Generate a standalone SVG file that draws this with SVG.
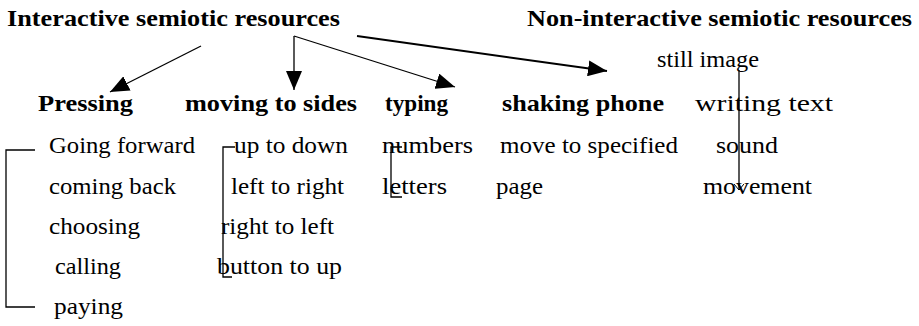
<svg xmlns="http://www.w3.org/2000/svg" width="919" height="326" viewBox="0 0 919 326">
  <style>
    text { font-family: "Liberation Serif", "DejaVu Serif", serif; font-size: 23px; fill: #000; }
    .head { font-weight: bold; }
    .ln { stroke: #000; stroke-width: 1.3; fill: none; }
    .thick { stroke-width: 2; }
  </style>
  <defs>
    <marker id="arrow" markerUnits="userSpaceOnUse" markerWidth="20" markerHeight="16" refX="19" refY="8" orient="auto">
      <path d="M0,0 L19,8 L0,16 Z" fill="#000"/>
    </marker>
    <marker id="tiny" markerUnits="userSpaceOnUse" markerWidth="8" markerHeight="10" refX="6" refY="5" orient="auto">
      <path d="M0,0 L6,5 L0,10" fill="none" stroke="#000" stroke-width="1"/>
    </marker>
  </defs>

  <!-- connectors -->
  <g id="connectors">
    <line class="ln" x1="201" y1="46" x2="110" y2="92" marker-end="url(#arrow)"/>
    <line class="ln" x1="294" y1="36" x2="294" y2="90" marker-end="url(#arrow)"/>
    <line class="ln" x1="294" y1="36" x2="455" y2="87" marker-end="url(#arrow)"/>
    <line class="ln thick" x1="357" y1="36" x2="607" y2="71" marker-end="url(#arrow)"/>
    <polyline class="ln" points="35,150 6,150 6,307 35,307"/>
    <polyline class="ln" points="235,147 223,147 223,277 232,277"/>
    <polyline class="ln" points="402,147 391,147 391,197 402,197"/>
    <line class="ln" x1="739" y1="70" x2="739" y2="190" marker-end="url(#tiny)"/>
  </g>

  <!-- headings -->
  <g id="interactive"><text class="head" x="7" y="26" textLength="333" lengthAdjust="spacingAndGlyphs">Interactive semiotic resources</text></g>
  <g id="non-interactive"><text class="head" x="527" y="26" textLength="385" lengthAdjust="spacingAndGlyphs">Non-interactive semiotic resources</text></g>

  <!-- interactive categories -->
  <g id="pressing"><text class="head" x="38" y="111" textLength="95" lengthAdjust="spacingAndGlyphs">Pressing</text></g>
  <g id="moving"><text class="head" x="185" y="111" textLength="172" lengthAdjust="spacingAndGlyphs">moving to sides</text></g>
  <g id="typing"><text class="head" x="385" y="111" textLength="63" lengthAdjust="spacingAndGlyphs">typing</text></g>
  <g id="shaking"><text class="head" x="502" y="111" textLength="162" lengthAdjust="spacingAndGlyphs">shaking phone</text></g>

  <!-- non-interactive items -->
  <g id="still-image"><text x="657" y="67" textLength="102" lengthAdjust="spacingAndGlyphs">still image</text></g>
  <g id="writing-text"><text x="695" y="111" textLength="138" lengthAdjust="spacingAndGlyphs">writing text</text></g>
  <g id="sound"><text x="716" y="153" textLength="62" lengthAdjust="spacingAndGlyphs">sound</text></g>
  <g id="movement"><text x="703" y="194" textLength="109" lengthAdjust="spacingAndGlyphs">movement</text></g>

  <!-- pressing items -->
  <g id="going-forward"><text x="49" y="153" textLength="146" lengthAdjust="spacingAndGlyphs">Going forward</text></g>
  <g id="coming-back"><text x="49" y="194" textLength="127" lengthAdjust="spacingAndGlyphs">coming back</text></g>
  <g id="choosing"><text x="49" y="234" textLength="91" lengthAdjust="spacingAndGlyphs">choosing</text></g>
  <g id="calling"><text x="55" y="274" textLength="66" lengthAdjust="spacingAndGlyphs">calling</text></g>
  <g id="paying"><text x="54" y="314" textLength="69" lengthAdjust="spacingAndGlyphs">paying</text></g>

  <!-- moving items -->
  <g id="up-to-down"><text x="234" y="153" textLength="114" lengthAdjust="spacingAndGlyphs">up to down</text></g>
  <g id="left-to-right"><text x="231" y="194" textLength="113" lengthAdjust="spacingAndGlyphs">left to right</text></g>
  <g id="right-to-left"><text x="221" y="234" textLength="113" lengthAdjust="spacingAndGlyphs">right to left</text></g>
  <g id="button-to-up"><text x="217" y="274" textLength="125" lengthAdjust="spacingAndGlyphs">button to up</text></g>

  <!-- typing items -->
  <g id="numbers"><text x="382" y="153" textLength="91" lengthAdjust="spacingAndGlyphs">numbers</text></g>
  <g id="letters"><text x="382" y="194" textLength="65" lengthAdjust="spacingAndGlyphs">letters</text></g>

  <!-- shaking phone items -->
  <g id="move-to-specified"><text x="500" y="153" textLength="178" lengthAdjust="spacingAndGlyphs">move to specified</text></g>
  <g id="page"><text x="496" y="194" textLength="47" lengthAdjust="spacingAndGlyphs">page</text></g>
</svg>
